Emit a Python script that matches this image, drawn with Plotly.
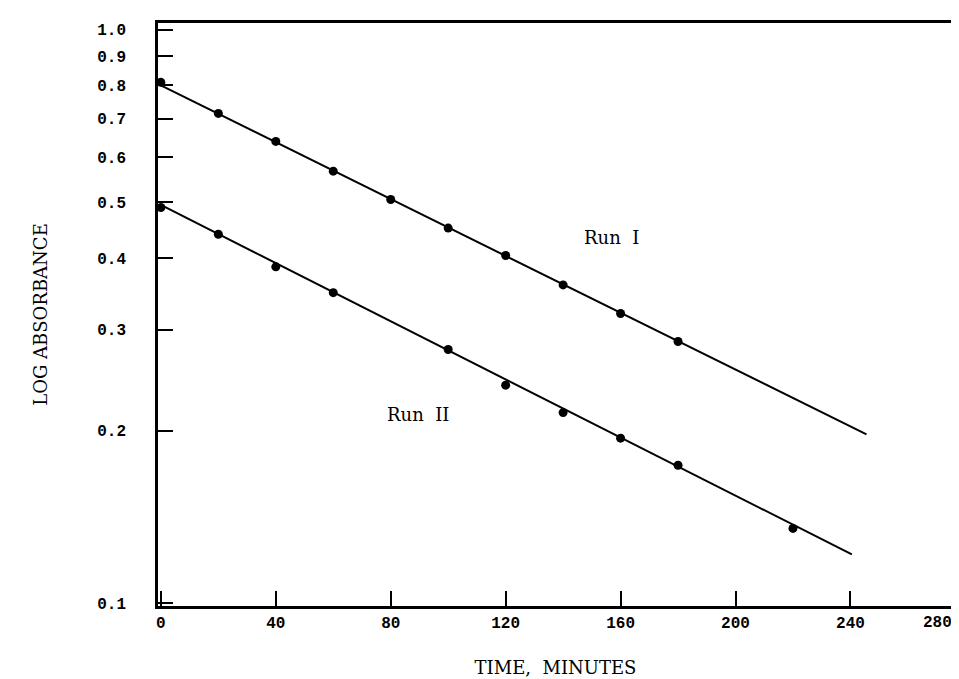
import math
import plotly.graph_objects as go

# Data
time_run1 = [0, 20, 40, 60, 80, 100, 120, 140, 160, 180]
abs_run1 = [0.81, 0.715, 0.639, 0.567, 0.506, 0.451, 0.404, 0.359, 0.320, 0.286]
time_run2 = [0, 20, 40, 60, 100, 120, 140, 160, 180, 220]
abs_run2 = [0.490, 0.440, 0.386, 0.348, 0.277, 0.240, 0.215, 0.194, 0.174, 0.135]
fit1_t = [0, 245.6]
fit1_y = [0.80, 0.197]
fit2_t = [0, 240.5]
fit2_y = [0.495, 0.1216]
x_ticks = [0, 40, 80, 120, 160, 200, 240]
y_ticks = [0.1, 0.2, 0.3, 0.4, 0.5, 0.6, 0.7, 0.8, 0.9, 1.0]
y_ticklabels = ["0.1", "0.2", "0.3", "0.4", "0.5", "0.6", "0.7", "0.8", "0.9", "1.0"]
run_labels = ["Run  I", "Run  II"]
run_label_x = [157, 89.5]
run_label_y = [0.434, 0.213]

fig = go.Figure()
for t, y in [(fit1_t, fit1_y), (fit2_t, fit2_y)]:
    fig.add_trace(go.Scatter(x=t, y=y, mode="lines",
                             line=dict(color="black", width=2), showlegend=False))
for t, y in [(time_run1, abs_run1), (time_run2, abs_run2)]:
    fig.add_trace(go.Scatter(x=t, y=y, mode="markers",
                             marker=dict(color="black", size=9), showlegend=False))

tickfont = dict(family="Liberation Mono", size=16, color="black", weight="bold")
serif = dict(family="DejaVu Serif", size=18, color="black")

fig.update_xaxes(range=[-1, 275.7], tickvals=x_ticks, ticktext=[str(v) for v in x_ticks],
                 ticks="inside", ticklen=15, tickwidth=2, tickcolor="black",
                 showline=True, linewidth=2.5, linecolor="black", mirror=True,
                 showgrid=False, zeroline=False, tickfont=tickfont,
                 title=dict(text="TIME,  MINUTES", font=serif, standoff=30))
fig.update_yaxes(type="log", range=[-1.005, 0.012], tickvals=y_ticks, ticktext=y_ticklabels,
                 ticks="inside", ticklen=15, tickwidth=2, tickcolor="black",
                 showline=True, linewidth=2.5, linecolor="black", mirror=True,
                 showgrid=False, zeroline=False, tickfont=tickfont, ticklabelstandoff=26,
                 title=dict(text="LOG ABSORBANCE", font=serif, standoff=45))

for txt, x, y in zip(run_labels, run_label_x, run_label_y):
    fig.add_annotation(x=x, y=math.log10(y), text=txt, showarrow=False, font=serif)
fig.add_annotation(x=1, xref="paper", xanchor="right", y=0, yref="paper", yanchor="top",
                   yshift=-6, xshift=1, text="<b>280</b>", showarrow=False,
                   font=dict(family="Liberation Mono", size=16, color="black"))

fig.update_layout(width=959, height=679, margin=dict(l=150, r=11, t=15, b=77),
                  plot_bgcolor="white", paper_bgcolor="white")
fig.write_html("out.html")
